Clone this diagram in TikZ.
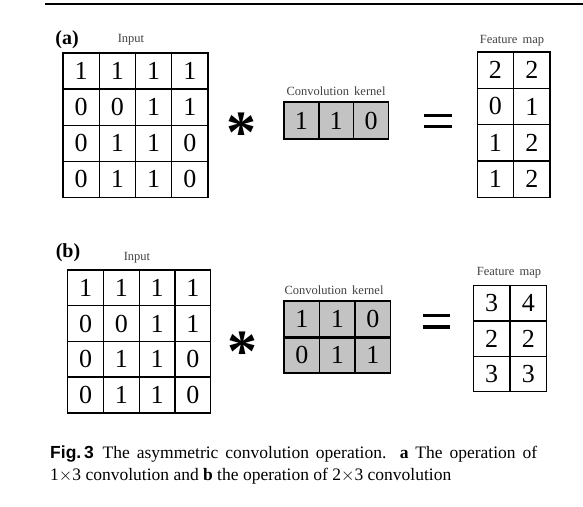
\documentclass[tikz,border=0pt]{standalone}
\usepackage{fontspec}
\setmainfont{Liberation Serif}
\newfontfamily\capsans{Liberation Sans}
\begin{document}
\begin{tikzpicture}[x=1pt,y=-1pt,
  cellbox/.style={draw=black, line width=1.4pt, inner sep=0pt, minimum width=#1, font=\fontsize{26}{26}\selectfont},
  kerncell/.style={cellbox=#1, fill=kgray},
  small/.style={font=\fontsize{12.5}{12.5}\selectfont, text=black!75, inner sep=0pt},
  panel/.style={font=\bfseries\fontsize{20}{20}\selectfont, inner sep=0pt},
  opstar/.style={font=\bfseries\fontsize{60}{60}\selectfont, inner sep=0pt},
  eqbar/.style={line width=3.5pt, black}
]
\definecolor{kgray}{RGB}{195,195,195}
\useasboundingbox (0,0) rectangle (583,506);
\draw[line width=2pt] (45,3.5) -- (583,3.5);

% ---------- (a) ----------
\node[panel] (la) at (67,40) {(a)};
\node[small] (ina) at (131,40) {Input};
\def\gx{63}\def\gy{53}\def\cw{36.25}\def\ch{36.1}
\foreach \r/\row in {0/{1,1,1,1},1/{0,0,1,1},2/{0,1,1,0},3/{0,1,1,0}}{
  \foreach \v [count=\c from 0] in \row {
    \node[cellbox=\cw, minimum height=\ch] (a-\r-\c) at ({\gx+\cw*(\c+0.5)},{\gy+\ch*(\r+0.5)}) {\v};
  }
}
\node[opstar] (sa) at (241,133) {*};
\node[small] (ka) at (336,91) {Convolution\, kernel};
\foreach \v [count=\c from 0] in {1,1,0}{
  \node[kerncell=34.8, minimum height=37] (ka-\c) at ({284+34.8*(\c+0.5)},120.5) {\v};
}
\coordinate (ea1) at (424,115.5); \coordinate (ea2) at (452,115.5);
\coordinate (ea3) at (424,126.5); \coordinate (ea4) at (452,126.5);
\draw[eqbar] (ea1) -- (ea2);
\draw[eqbar] (ea3) -- (ea4);
\node[small] (fa) at (512,41) {Feature\, map};
\foreach \r/\row in {0/{2,2},1/{0,1},2/{1,2},3/{1,2}}{
  \foreach \v [count=\c from 0] in \row {
    \node[cellbox=36.35, minimum height=36.3] (fa-\r-\c) at ({477.3+36.35*(\c+0.5)},{52+36.3*(\r+0.5)}) {\v};
  }
}

% ---------- (b) ----------
\node[panel] (lb) at (68,253) {(b)};
\node[small] (inb) at (137,258) {Input};
\foreach \r/\row in {0/{1,1,1,1},1/{0,0,1,1},2/{0,1,1,0},3/{0,1,1,0}}{
  \foreach \v [count=\c from 0] in \row {
    \node[cellbox=35.75, minimum height=35.7] (b-\r-\c) at ({67.7+35.75*(\c+0.5)},{270+35.7*(\r+0.5)}) {\v};
  }
}
\node[opstar] (sb) at (242,352) {*};
\node[small] (kb) at (334,290) {Convolution\, kernel};
\foreach \r/\row in {0/{1,1,0},1/{0,1,1}}{
  \foreach \v [count=\c from 0] in \row {
    \node[kerncell=35.5, minimum height=36] (kb-\r-\c) at ({284+35.5*(\c+0.5)},{301+36*(\r+0.5)}) {\v};
  }
}
\draw[line width=3pt] (kb-0-0.south west) -- (kb-0-2.south east);
\coordinate (eb1) at (423,315.5); \coordinate (eb2) at (450,315.5);
\coordinate (eb3) at (423,327); \coordinate (eb4) at (450,327);
\draw[eqbar] (eb1) -- (eb2);
\draw[eqbar] (eb3) -- (eb4);
\node[small] (fb) at (509,273) {Feature\, map};
\foreach \r/\row in {0/{3,4},1/{2,2},2/{3,3}}{
  \foreach \v [count=\c from 0] in \row {
    \node[cellbox=36.7, minimum height=35.3] (fb-\r-\c) at ({473.3+36.7*(\c+0.5)},{285.7+35.3*(\r+0.5)}) {\v};
  }
}

% ---------- caption ----------
\node[anchor=north west, inner sep=0pt, text width=487pt, align=justify,
      font=\fontsize{17.5}{21.3}\selectfont] (cap) at (50,446)
  {{\capsans\bfseries Fig.\,3}\enspace The asymmetric convolution operation. \textbf{a} The operation of\linebreak
   1$\times$3 convolution and \textbf{b} the operation of 2$\times$3 convolution};
\end{tikzpicture}
\end{document}
